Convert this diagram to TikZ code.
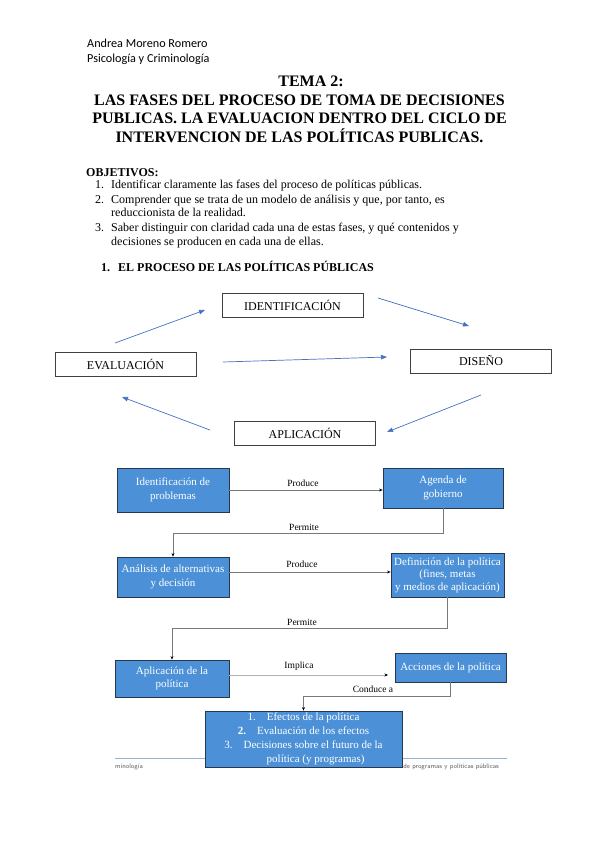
\documentclass[tikz,border=0pt]{standalone}
\usepackage{fontspec}
\setmainfont{Liberation Serif}
\newfontfamily\hdrfont{Carlito}
\usetikzlibrary{arrows.meta,calc}
\definecolor{cyc}{RGB}{68,114,196}
\definecolor{boxblue}{RGB}{76,145,215}
\definecolor{boxedge}{RGB}{40,55,75}
\definecolor{connc}{RGB}{120,120,120}
\definecolor{footline}{RGB}{150,180,215}
\definecolor{foottext}{RGB}{90,90,90}
\begin{document}
\begin{tikzpicture}[x=1pt,y=-1pt,
  cycbox/.style={draw=black!75,line width=0.9pt,minimum width=141pt,minimum height=24pt,inner sep=0pt,font=\fontsize{12}{14}\selectfont},
  cycarrow/.style={draw=cyc,line width=0.7pt,-{Triangle[length=6pt,width=4.5pt]}},
  bluebox/.style={draw=boxedge,line width=0.8pt,fill=boxblue,text=white,align=center,inner sep=0pt,font=\fontsize{11}{13.5}\selectfont},
  conn/.style={draw=connc,line width=0.6pt,-{Stealth[length=3.5pt,width=3pt,color=black]}},
  lbl/.style={font=\fontsize{9.5}{11}\selectfont,inner sep=0pt},
  txt/.style={inner sep=0pt,anchor=base west,font=\fontsize{12}{14}\selectfont},
  ttl/.style={inner sep=0pt,anchor=base,font=\fontsize{16}{18.5}\selectfont\bfseries}
]
\useasboundingbox (0,0) rectangle (599,848);
\fill[white] (0,0) rectangle (599,848);

% header
\node[inner sep=0pt,anchor=base west,font=\hdrfont\fontsize{12.2}{14}\selectfont] (h1) at (87,48) {Andrea Moreno Romero};
\node[inner sep=0pt,anchor=base west,font=\hdrfont\fontsize{12.2}{14}\selectfont] (h2) at (87,63) {Psicología y Criminología};

% title
\node[ttl] (t0) at (311,87) {TEMA 2:};
\node[ttl] (t1) at (299.5,105.5) {LAS FASES DEL PROCESO DE TOMA DE DECISIONES};
\node[ttl] (t2) at (299.5,124) {PUBLICAS. LA EVALUACION DENTRO DEL CICLO DE};
\node[ttl] (t3) at (299.5,142.5) {INTERVENCION DE LAS POLÍTICAS PUBLICAS.};

% objectives
\node[txt,font=\fontsize{12}{14}\selectfont\bfseries] (ob) at (86,176) {OBJETIVOS:};
\node[txt] (o1n) at (95,188) {1.};
\node[txt] (o1) at (111,188) {Identificar claramente las fases del proceso de políticas públicas.};
\node[txt] (o2n) at (95,203) {2.};
\node[txt] (o2) at (111,203) {Comprender que se trata de un modelo de análisis y que, por tanto, es};
\node[txt] (o2b) at (111,216.5) {reduccionista de la realidad.};
\node[txt] (o3n) at (95,231) {3.};
\node[txt] (o3) at (111,231) {Saber distinguir con claridad cada una de estas fases, y qué contenidos y};
\node[txt] (o3b) at (111,245) {decisiones se producen en cada una de ellas.};

\node[txt,font=\fontsize{12}{14}\selectfont\bfseries] (s1n) at (101,271) {1.};
\node[txt,font=\fontsize{12}{14}\selectfont\bfseries] (s1) at (118,271) {EL PROCESO DE LAS POLÍTICAS PÚBLICAS};

% cycle
\node[cycbox] (ide) at (292.5,305.5) {IDENTIFICACIÓN};
\node[cycbox] (dis) at (481,361) {DISEÑO};
\node[cycbox] (eva) at (125.5,364.5) {EVALUACIÓN};
\node[cycbox] (apc) at (305,433) {APLICACIÓN};

\coordinate (a1s) at (115,343); \coordinate (a1e) at (205,310);
\coordinate (a2s) at (378,298); \coordinate (a2e) at (469,326);
\coordinate (a3s) at (223,362); \coordinate (a3e) at (387,357);
\coordinate (a4s) at (481,395); \coordinate (a4e) at (387,432);
\coordinate (a5s) at (210,430); \coordinate (a5e) at (122,397);
\draw[cycarrow] (a1s) -- (a1e);
\draw[cycarrow] (a2s) -- (a2e);
\draw[cycarrow] (a3s) -- (a3e);
\draw[cycarrow] (a4s) -- (a4e);
\draw[cycarrow] (a5s) -- (a5e);

% footer (behind boxes)
\draw[footline,line width=1pt] (115,758) coordinate (fl1) -- (507,758) coordinate (fl2);
\node[inner sep=0pt,anchor=base west,text=foottext,font=\sffamily\fontsize{6.5}{7}\selectfont] (ft1) at (115,768) {minología};
\node[inner sep=0pt,anchor=base east,text=foottext,font=\sffamily\fontsize{6.5}{7}\selectfont] (ft2) at (499,768) {Evaluación de programas y políticas públicas};

% flowchart
\node[bluebox,minimum width=112pt,minimum height=44pt] (idp) at (173,490) {Identificación de\\problemas};
\node[bluebox,minimum width=120pt,minimum height=40pt] (agd) at (443,488) {Agenda de\\gobierno};
\node[bluebox,minimum width=112pt,minimum height=40pt] (ana) at (173,577) {Análisis de alternativas\\y decisión};
\node[bluebox,minimum width=113pt,minimum height=44pt,font=\fontsize{11}{12.5}\selectfont] (def) at (447.5,575) {Definición de la política\\(fines, metas\\y medios de aplicación)};
\node[bluebox,minimum width=114pt,minimum height=37pt] (apl) at (172,678.5) {Aplicación de la\\política};
\node[bluebox,minimum width=111pt,minimum height=29pt] (acc) at (450.5,667.5) {Acciones de la política};
\node[bluebox,minimum width=197pt,minimum height=56pt,font=\fontsize{11}{14}\selectfont] (efe) at (303.5,739) {1.\quad Efectos de la política\\\textbf{2.}\quad Evaluación de los efectos\\3.\quad Decisiones sobre el futuro de la\\\hspace*{2.2em}política (y programas)};

\draw[conn] (idp.east) -- (idp.east -| agd.west);
\node[lbl] (l1) at (303,483) {Produce};

\draw[conn] (agd.south) -- ++(0,25) -| (ana.north);
\node[lbl] (l2) at (304,527) {Permite};

\coordinate (p2s) at ([yshift=5pt]ana.east);
\draw[conn] (p2s) -- (p2s -| def.west);
\node[lbl] (l3) at (302,564) {Produce};

\draw[conn] (def.south) -- ++(0,31) -| (apl.north);
\node[lbl] (l4) at (302,622) {Permite};

\coordinate (p3s) at ([yshift=3.5pt]apl.east);
\coordinate (impend) at (388,675);
\draw[conn,draw=black!30] (p3s) -- (impend);
\node[lbl] (l5) at (299,666) {Implica};

\draw[conn] (acc.south) -- ++(0,14) -| (efe.north);
\node[lbl] (l6) at (373,689) {Conduce a};

\end{tikzpicture}
\end{document}
